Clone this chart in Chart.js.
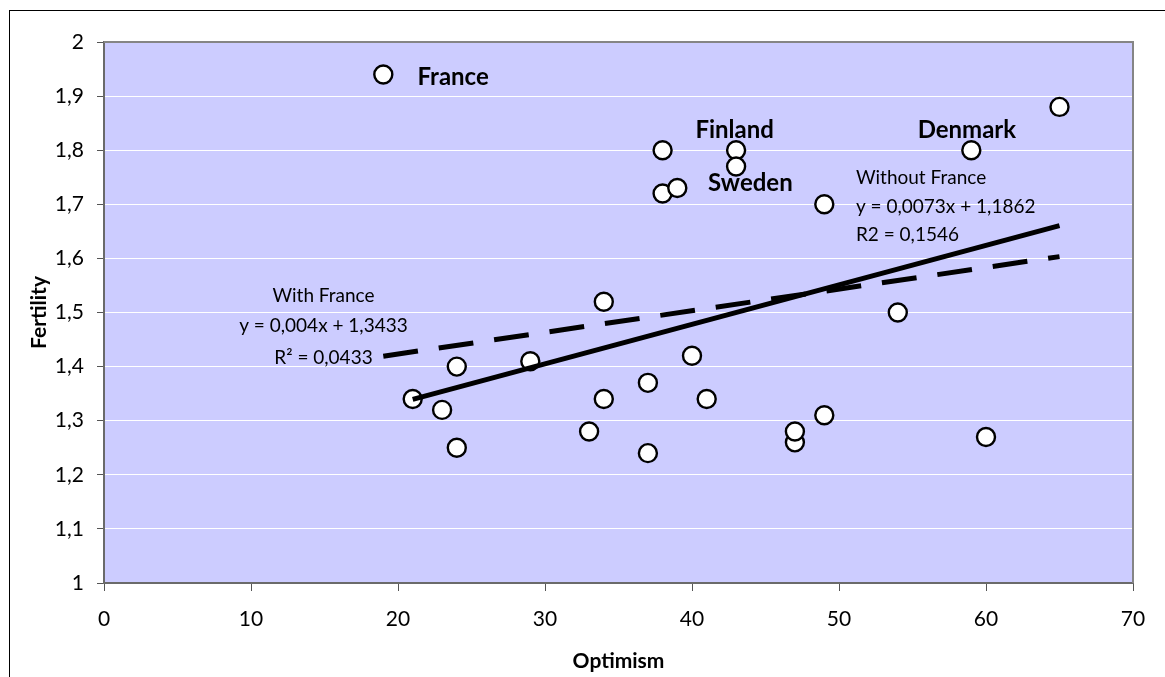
<!DOCTYPE html>
<html>
<head>
<meta charset="utf-8">
<script src="https://cdn.jsdelivr.net/npm/chart.js@4"></script>
<style>
html,body{margin:0;padding:0;background:#fff;}
#wrap{width:1165px;height:677px;position:relative;}
</style>
</head>
<body>
<div id="wrap"><canvas id="c" width="1165" height="677"></canvas></div>
<script>
// ---- data ----
const optimism  = [19, 65, 59, 38, 43, 43, 38, 39, 49, 54, 34, 21, 23, 24, 24, 29, 33, 34, 37, 37, 40, 41, 47, 47, 49, 60];
const fertility = [1.94, 1.88, 1.80, 1.80, 1.80, 1.77, 1.72, 1.73, 1.70, 1.50, 1.52, 1.34, 1.32, 1.40, 1.25, 1.41, 1.28, 1.34, 1.37, 1.24, 1.42, 1.34, 1.26, 1.28, 1.31, 1.27];

// trendlines (from the equations shown on the chart)
const withFranceX    = [19, 65];
const withFranceY    = [1.4193, 1.6033];
const withoutFranceX = [21, 65];
const withoutFranceY = [1.3395, 1.6607];

const xTickLabels = ['0','10','20','30','40','50','60','70'];
const yTickLabels = ['1','1,1','1,2','1,3','1,4','1,5','1,6','1,7','1,8','1,9','2'];

const countryLabels = [
  {text:'France',  x:23.75, y:1.935},
  {text:'Finland', x:42.9,  y:1.837},
  {text:'Sweden',  x:43.97, y:1.739},
  {text:'Denmark', x:58.7,  y:1.837}
];
const withoutFranceText = ['Without France', 'y = 0,0073x + 1,1862', 'R2 = 0,1546'];
const withoutFranceTextPos = {x:51.15, y:[1.749, 1.696, 1.643]};
const withFranceText = ['With France', 'y = 0,004x + 1,3433', 'R\u00B2 = 0,0433'];
const withFranceTextPos = {x:14.93, y:[1.530, 1.476, 1.417]};

const FONT = 'Lato, "Liberation Sans", sans-serif';

const pts = optimism.map((v,i)=>({x:v, y:fertility[i]}));
const line1 = withFranceX.map((v,i)=>({x:v, y:withFranceY[i]}));
const line2 = withoutFranceX.map((v,i)=>({x:v, y:withoutFranceY[i]}));

const bgPlugin = {
  id:'bg',
  beforeDraw(chart){
    const {ctx, chartArea:a} = chart;
    ctx.save();
    ctx.fillStyle = '#ffffff';
    ctx.fillRect(0,0,chart.width,chart.height);
    ctx.strokeStyle = '#000';
    ctx.lineWidth = 1;
    ctx.strokeRect(9.5, 10.5, 3000, 3000);
    ctx.fillStyle = '#CCCCFF';
    ctx.fillRect(a.left, a.top, a.right-a.left, a.bottom-a.top);
    ctx.restore();
  },
  afterDraw(chart){
    const {ctx, chartArea:a, scales} = chart;
    ctx.save();
    ctx.strokeStyle = '#858585';
    ctx.lineWidth = 2;
    ctx.beginPath();
    ctx.moveTo(a.left, a.top); ctx.lineTo(a.right, a.top); ctx.lineTo(a.right, a.bottom);
    ctx.stroke();
    const xs = scales.x, ys = scales.y;
    ctx.fillStyle = '#000';
    ctx.textBaseline = 'middle';
    ctx.textAlign = 'center';
    ctx.font = 'bold 24px ' + FONT;
    countryLabels.forEach(l=>{
      ctx.fillText(l.text, xs.getPixelForValue(l.x), ys.getPixelForValue(l.y));
    });
    ctx.font = '19px ' + FONT;
    ctx.textAlign = 'left';
    withoutFranceText.forEach((t,i)=>{
      ctx.fillText(t, xs.getPixelForValue(withoutFranceTextPos.x), ys.getPixelForValue(withoutFranceTextPos.y[i]));
    });
    ctx.textAlign = 'center';
    withFranceText.forEach((t,i)=>{
      ctx.fillText(t, xs.getPixelForValue(withFranceTextPos.x), ys.getPixelForValue(withFranceTextPos.y[i]));
    });
    ctx.restore();
  }
};

new Chart(document.getElementById('c'), {
  type:'scatter',
  data:{
    datasets:[
      {label:'Countries', data:pts, order:2, showLine:false,
       pointRadius:9, pointHoverRadius:9, pointBackgroundColor:'#ffffff',
       pointBorderColor:'#000000', pointBorderWidth:2.4},
      {label:'With France', type:'line', data:line1, order:1, borderColor:'#000',
       borderWidth:5, borderDash:[35,21], borderCapStyle:'butt', pointRadius:0, fill:false, tension:0},
      {label:'Without France', type:'line', data:line2, order:1, borderColor:'#000',
       borderWidth:5, pointRadius:0, fill:false, tension:0}
    ]
  },
  options:{
    responsive:false,
    animation:false,
    devicePixelRatio:1,
    layout:{padding:{left:10, top:42, right:32, bottom:0}},
    plugins:{legend:{display:false}, tooltip:{enabled:false}},
    scales:{
      x:{
        type:'linear', min:0, max:70,
        ticks:{stepSize:10, color:'#000', padding:16, font:{family:FONT, size:21},
               callback:(v)=>xTickLabels[Math.round(v/10)]},
        grid:{drawOnChartArea:false, drawTicks:true, tickLength:8, tickColor:'#555', tickWidth:1},
        border:{color:'#6a6a6a', width:2},
        title:{display:true, text:'Optimism', color:'#000', font:{family:FONT, size:21, weight:'bold'}, padding:{top:4,bottom:3.5}},
        afterFit:(s)=>{s.height = 94;}
      },
      y:{
        type:'linear', min:1, max:2,
        ticks:{stepSize:0.1, color:'#000', padding:13, font:{family:FONT, size:21},
               callback:(v)=>yTickLabels[Math.round((v-1)*10)]},
        grid:{color:'#ffffff', lineWidth:1, drawTicks:true, tickLength:7, tickColor:'#555', tickWidth:1},
        border:{color:'#6a6a6a', width:2},
        title:{display:true, text:'Fertility', color:'#000', font:{family:FONT, size:21, weight:'bold'}, padding:{top:17,bottom:0}},
        afterFit:(s)=>{s.width = 94;}
      }
    }
  },
  plugins:[bgPlugin]
});
</script>
</body>
</html>
